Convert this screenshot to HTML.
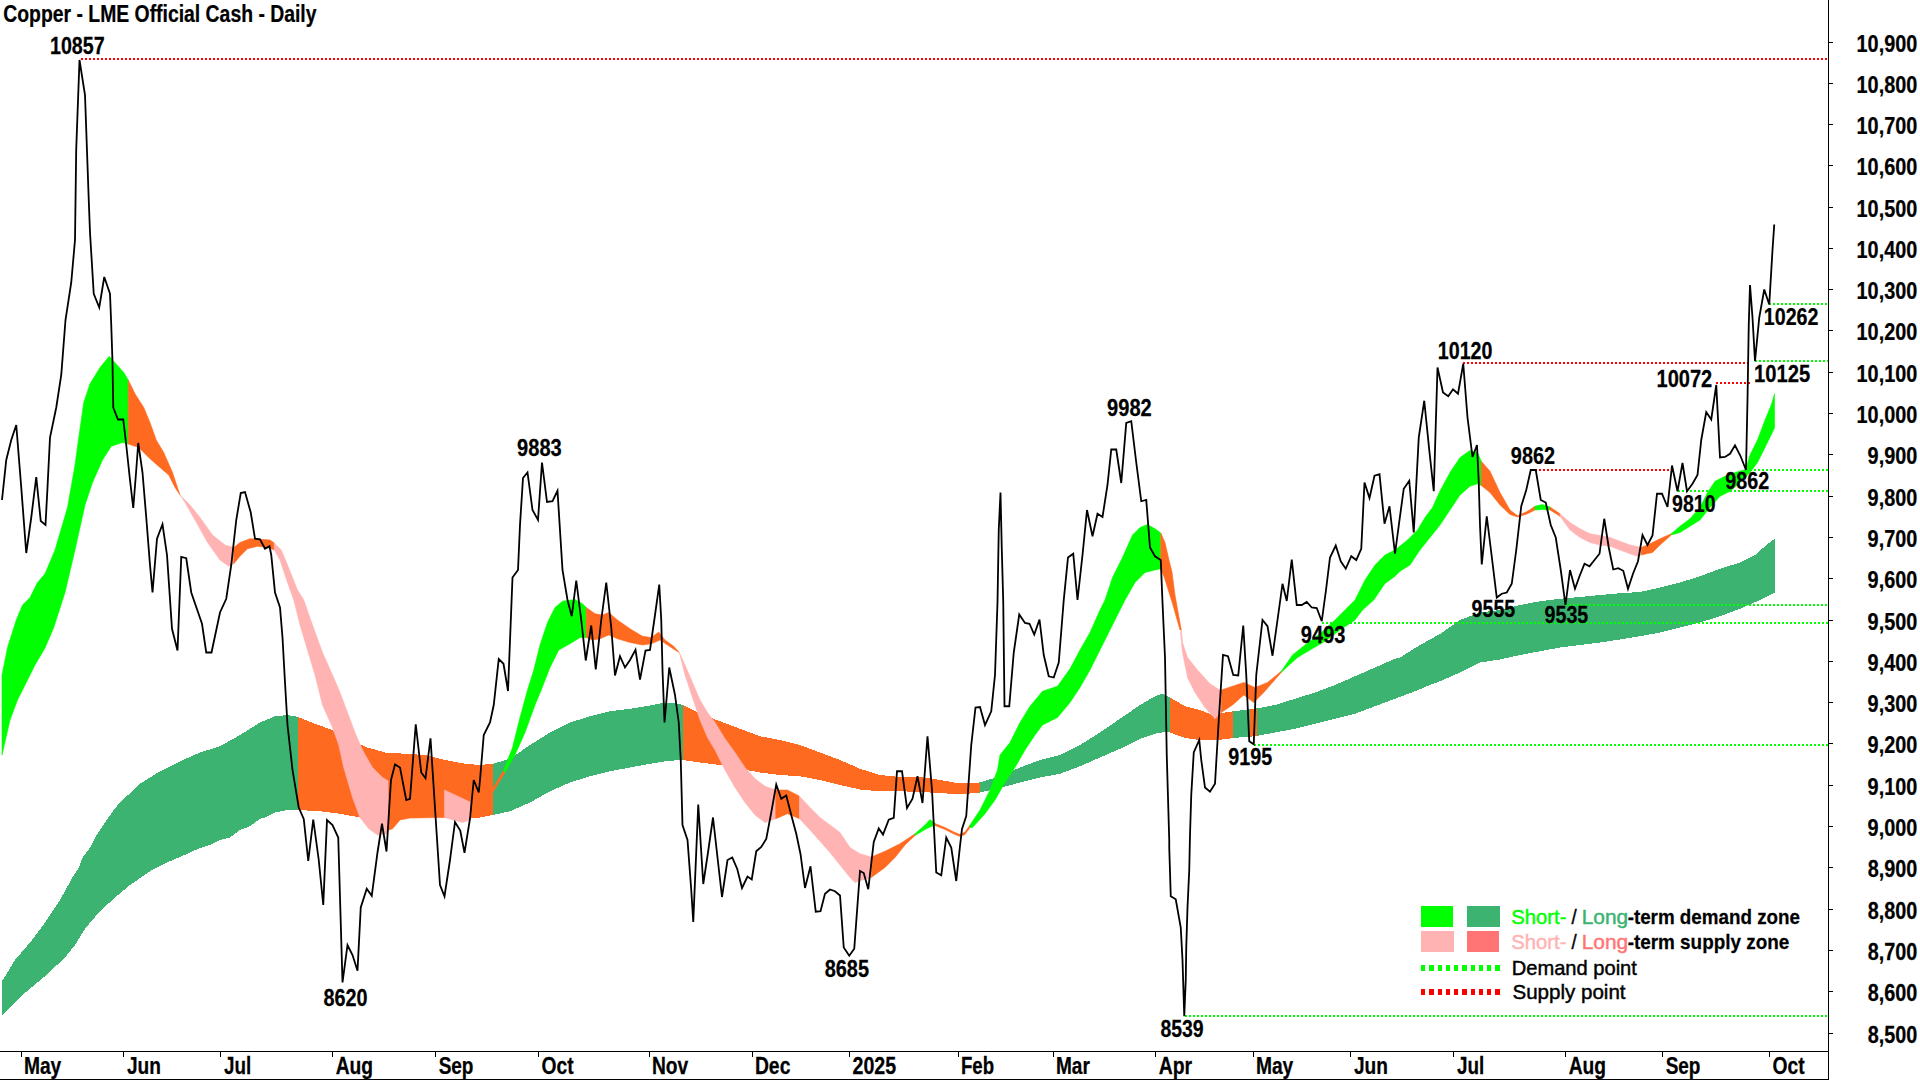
<!DOCTYPE html>
<html lang="en"><head><meta charset="utf-8"><title>Copper - LME Official Cash - Daily</title>
<style>
html,body{margin:0;padding:0;background:#fff;}
body{width:1920px;height:1080px;overflow:hidden;}
svg{display:block;}
text{font-family:"Liberation Sans",Arial,sans-serif;font-weight:bold;fill:#000;stroke:#000;stroke-width:0.25px;}
.r{font-weight:normal;stroke-width:0.45px;}
</style></head><body>
<svg width="1920" height="1080" viewBox="0 0 1920 1080">
<rect width="1920" height="1080" fill="#fff"/>
<g shape-rendering="crispEdges">
<path d="M2 981.25 L15 960 L30 942.5 L45 922.5 L60 900 L72.5 877.5 L78.75 868 L82.5 857.5 L90 847.5 L95 837.5 L105 822.5 L113.75 810 L120 802.5 L140 783.75 L160 771.25 L180 761.25 L200 752.5 L220 746.25 L240 735 L260 722.5 L275 716.25 L287.5 715 L298.25 717 L298.25 810 L285 810.5 L275 812.5 L265 817.5 L260 818.75 L250 826.25 L240 830 L230 837.5 L220 840 L210 845 L200 848 L190 852.5 L180 857 L170 861.25 L160 866 L150 871.25 L130 885 L115 897.5 L100 911.25 L85 928.75 L75 945 L65 957.5 L45 976.25 L22.5 995 L2 1015Z" fill="#3cb371" stroke="#3cb371" stroke-width="0"/>
<path d="M298.25 717 L315 723.75 L332.5 730 L350 740 L367.5 747.5 L385 752.5 L405 753.75 L425 755 L445 760 L465 763.75 L480 765 L493 763.75 L493 815 L480 817.5 L470 818 L445 817.5 L430 817 L410 818 L400 818 L360 817.5 L340 813.75 L320 811.25 L298.25 810Z" fill="#ff6a21" stroke="#ff6a21" stroke-width="0"/>
<path d="M493 763.75 L510 758.75 L530 745 L550 732.5 L570 722.5 L590 716.25 L610 711.25 L630 708.75 L650 705.5 L665 702.5 L675 703 L682.5 705 L682.5 760 L680 760 L665 761.25 L650 763.75 L630 767.5 L610 771.25 L590 776.25 L570 782.5 L550 791.25 L530 802.5 L510 811.25 L493 815Z" fill="#3cb371" stroke="#3cb371" stroke-width="0"/>
<path d="M682.5 705 L700 713.75 L720 721.25 L740 728.75 L760 736.25 L780 740 L800 745 L820 752.5 L840 760 L860 768.75 L880 775 L900 777 L920 777 L940 780 L960 783.5 L979.5 782.5 L979.5 792.5 L960 794.5 L940 793 L920 792 L900 791.25 L880 791.25 L860 789.5 L840 785 L820 780 L800 776.25 L780 775 L760 772.5 L740 768.75 L720 765 L700 762.5 L682.5 760Z" fill="#ff6a21" stroke="#ff6a21" stroke-width="0"/>
<path d="M979.5 782.5 L1000 776.25 L1020 767.5 L1040 760 L1060 755 L1080 745 L1100 732.5 L1120 718.75 L1140 705 L1155 696.25 L1162.5 693.75 L1170 697.5 L1170 732.5 L1165 732 L1155 733.75 L1140 738.75 L1120 748.75 L1100 757.5 L1080 766.25 L1060 773.75 L1040 777.5 L1020 782.5 L1000 788 L979.5 792.5Z" fill="#3cb371" stroke="#3cb371" stroke-width="0"/>
<path d="M1170 697.5 L1185 706.25 L1200 710 L1212.5 715 L1225 712.5 L1233.25 711.25 L1233.25 738 L1215 740.5 L1200 740 L1185 738 L1170 732.5Z" fill="#ff6a21" stroke="#ff6a21" stroke-width="0"/>
<path d="M1233.25 711.25 L1255 708.75 L1275 705 L1295 698.75 L1315 692.5 L1335 685 L1355 676.25 L1375 667.5 L1395 658.75 L1400 657.5 L1420 645 L1440 634 L1460 620 L1480 612.5 L1500 610 L1520 605 L1540 601.25 L1560 598.75 L1580 597 L1600 595 L1620 593.25 L1640 592 L1660 587.5 L1680 582.5 L1700 576.25 L1720 568.75 L1740 562.5 L1755 555 L1765 546.25 L1774.5 538.75 L1774.5 592.5 L1760 600 L1740 608.75 L1720 616.25 L1700 622.5 L1680 627.5 L1660 632.5 L1640 636.25 L1620 639.5 L1600 642.5 L1580 645 L1560 647.5 L1540 651.25 L1520 655 L1500 659.5 L1480 662.5 L1460 672.5 L1440 681.25 L1430 685 L1415 691.25 L1395 698.75 L1375 706.25 L1355 713.75 L1335 718.75 L1315 723.75 L1295 728.75 L1275 732.5 L1255 736.25 L1233.25 738Z" fill="#3cb371" stroke="#3cb371" stroke-width="0"/>
<path d="M1249.5 709.4 L1257 708.5 L1257 736 L1249.5 736.7Z" fill="#ff6a21" stroke="#ff6a21" stroke-width="0"/>
</g><g>
<path d="M2 675 L7.5 647.5 L16.25 620 L22.5 605 L30 597.5 L37.5 582.5 L45 573.75 L55 550 L67.5 507.5 L75 465 L78.75 437.5 L83.75 402.5 L90 383.75 L100 367.5 L109.25 356.25 L123.75 372.5 L128.25 380 L128.25 444 L122.5 442.5 L111.25 446.25 L102.5 460 L92.5 482.5 L85 505 L75 550 L65 592.5 L53.75 627.5 L45 648 L35 665 L25 685 L17.5 700 L10 720 L2 755Z" fill="#00ff00" stroke="#00ff00" stroke-width="0.6"/>
<path d="M128.25 380 L135 393.75 L143.75 407.5 L150 422.5 L156.25 440 L163.75 452.5 L172.5 472.5 L180 495 L180 495 L175 487.5 L168.75 475 L160 467.5 L150 458.75 L138.75 447.5 L128.25 444Z" fill="#ff6a21" stroke="#ff6a21" stroke-width="0.6"/>
<path d="M180 495 L190 505 L200 517.5 L212.5 535 L225 545 L233.75 547.5 L233.75 563.75 L228.75 566.25 L220 560 L207.5 542.5 L195 520 L185 502.5 L180 495Z" fill="#ffb3b3" stroke="#ffb3b3" stroke-width="0.6"/>
<path d="M233.75 547.5 L240 542.5 L250 538.75 L260 539.25 L270 540 L274.25 543 L274.25 550 L267.5 547.5 L257.5 546.25 L247.5 548.75 L240 556.25 L233.75 563.75Z" fill="#ff6a21" stroke="#ff6a21" stroke-width="0.6"/>
<path d="M274.25 543 L281.25 550 L287.5 565 L297.5 590 L303.75 600 L312.5 625 L322.5 652.5 L332.5 675 L340 692.5 L347.5 712.5 L355 732.5 L362.5 750 L372.5 767.5 L382.5 777.5 L388.75 781.25 L388.75 830 L386.25 833.75 L377.5 835 L368.75 828.75 L360 817.5 L352.5 797.5 L343.75 767.5 L338.75 745 L332.5 727.5 L322.5 705 L315 675 L307.5 650 L300 625 L293.75 600 L287.5 582.5 L280 560 L274.25 550Z" fill="#ffb3b3" stroke="#ffb3b3" stroke-width="0.6"/>
<path d="M388.75 781.25 L400 785 L444.5 790 L444.5 817.5 L410 818 L400 820 L392.5 828.75 L388.75 830Z" fill="#ff6a21" stroke="#ff6a21" stroke-width="0.6"/>
<path d="M444.5 790 L470 802 L470 820 L462.5 822.5 L444.5 817.5Z" fill="#ffb3b3" stroke="#ffb3b3" stroke-width="0.6"/>
<path d="M493 788 L503.75 770 L505 772.5 L493 792Z" fill="#ff6a21" stroke="#ff6a21" stroke-width="0.6"/>
<path d="M503.75 770 L512.5 747.5 L520 717.5 L527.5 690 L533.75 670 L540 645 L547.5 622.5 L555 607.5 L562.5 601.25 L575 599.5 L582.5 603.75 L586.25 607.5 L586.25 637.5 L580 637.5 L570 643.75 L558.75 650 L550 667.5 L541.25 690 L535 705 L525 732.5 L515 755 L504.5 773Z" fill="#00ff00" stroke="#00ff00" stroke-width="0.6"/>
<path d="M586.25 607.5 L595 613.75 L602.5 615 L608.75 612.5 L617.5 620 L630 628.75 L642.5 636.25 L651.25 637.5 L658.75 632 L665 640 L673.75 646.25 L679.25 652.5 L679.25 652.5 L675 650 L667.5 645 L660 640 L651.25 643.75 L642.5 645 L630 642.5 L617.5 638.75 L608.75 635 L600 638.75 L592.5 640 L586.25 637.5Z" fill="#ff6a21" stroke="#ff6a21" stroke-width="0.6"/>
<path d="M679.25 652.5 L685 665 L692.5 682.5 L700 700 L707.5 712.5 L715 722.5 L725 738.75 L735 752.5 L745 767.5 L755 778.75 L765 786.25 L775.75 790 L775.75 818.75 L765 822.5 L755 815 L745 802.5 L735 787.5 L725 770 L715 750 L707.5 737.5 L700 720 L692.5 697.5 L685 675 L680 655 L679.25 652.5Z" fill="#ffb3b3" stroke="#ffb3b3" stroke-width="0.6"/>
<path d="M775.75 790 L787.5 790 L799.5 796.25 L799.5 818.75 L787.5 813.75 L775.75 818.75Z" fill="#ff6a21" stroke="#ff6a21" stroke-width="0.6"/>
<path d="M799.5 796.25 L810 807.5 L820 817.5 L830 825 L840 832.5 L850 847.5 L860 853.75 L871.25 857 L871.25 877.5 L862.5 880 L855 882.5 L850 877.5 L840 865 L830 852.5 L820 841.25 L810 830 L799.5 818.75Z" fill="#ffb3b3" stroke="#ffb3b3" stroke-width="0.6"/>
<path d="M871.25 857 L885 851.25 L900 843.75 L915 833.75 L915 835.5 L905 845 L895 857.5 L885 867.5 L871.25 877.5Z" fill="#ff6a21" stroke="#ff6a21" stroke-width="0.6"/>
<path d="M915 833.75 L925 825 L930 819.5 L935 823.5 L935 825.5 L930 827 L925 829.5 L915 835.5Z" fill="#00ff00" stroke="#00ff00" stroke-width="0.6"/>
<path d="M935 823.5 L945 827.5 L955 832.5 L960 834.5 L965 832 L970 825 L970 827.5 L965 834.5 L960 836.5 L955 834.5 L945 829.5 L935 825.5Z" fill="#ff6a21" stroke="#ff6a21" stroke-width="0.6"/>
<path d="M970 825 L980 810 L990 790 L997.5 770 L1000 755 L1010 742.5 L1020 722.5 L1030 706.25 L1042.5 691.25 L1057.5 686.25 L1070 668.75 L1080 650 L1090 632.5 L1100 610 L1105 600 L1112.5 577.5 L1122.5 557.5 L1132.5 535 L1140 527.5 L1147.5 524.5 L1155 528.75 L1160.75 533 L1160.75 568.75 L1155 570 L1145 572.5 L1135 582.5 L1125 600 L1120 610 L1110 630 L1100 650 L1090 670 L1080 687.5 L1070 702.5 L1057.5 717.5 L1042.5 725 L1035 735 L1025 750 L1015 767.5 L1005 782.5 L995 800 L985 813.75 L972.5 827.5 L970 827.5Z" fill="#00ff00" stroke="#00ff00" stroke-width="0.6"/>
<path d="M1160.75 533 L1165 542.5 L1169 560 L1172 572 L1175 595 L1181.25 630 L1180 630 L1172 602 L1164.5 578 L1160.75 568.75Z" fill="#ff6a21" stroke="#ff6a21" stroke-width="0.6"/>
<path d="M1181.25 630 L1182.5 642.5 L1187.5 657.5 L1197.5 670 L1210 683.75 L1221.25 691 L1221.25 712.5 L1215 718.75 L1205 707.5 L1195 692.5 L1187.5 677.5 L1182.5 652.5 L1180.5 632.5Z" fill="#ffb3b3" stroke="#ffb3b3" stroke-width="0.6"/>
<path d="M1221.25 690 L1232.5 686.25 L1243.75 682.5 L1255 687.5 L1267.5 682.5 L1281.25 671.25 L1281.25 672.5 L1272.5 682.5 L1263.75 692.5 L1253.75 702.5 L1243.75 695 L1232.5 705 L1221.25 712.5Z" fill="#ff6a21" stroke="#ff6a21" stroke-width="0.6"/>
<path d="M1281.25 671.25 L1292.5 655 L1305 645 L1320 633.75 L1335 620 L1350 605 L1355 600 L1365 580 L1375 565 L1385 555 L1395 550 L1407.5 540 L1417.5 530 L1425 517.5 L1432.5 507.5 L1440 491 L1450 472.5 L1460 457.5 L1470 450.5 L1477.5 452.5 L1481.25 461.25 L1481.25 485.5 L1477.5 483.75 L1470 486.25 L1460 495 L1450 510 L1440 525 L1430 537.5 L1420 550 L1410 565 L1400 571.25 L1395 576.25 L1385 583.5 L1373.75 600 L1362.5 610 L1355 620 L1340 630 L1325 641.25 L1310 650 L1297.5 657.5 L1285 668.75 L1281.25 672.5Z" fill="#00ff00" stroke="#00ff00" stroke-width="0.6"/>
<path d="M1481.25 461.25 L1490 471.25 L1500 492.5 L1510 510 L1517.5 515.75 L1527.5 511.25 L1535 506.25 L1535 510 L1527.5 513.75 L1517.5 517 L1510 514.5 L1500 505 L1490 492.5 L1481.25 485.5Z" fill="#ff6a21" stroke="#ff6a21" stroke-width="0.6"/>
<path d="M1535 506.25 L1542.5 504.5 L1550 507 L1550 510 L1542.5 509.5 L1535 510Z" fill="#00ff00" stroke="#00ff00" stroke-width="0.6"/>
<path d="M1550 507 L1560 513.75 L1560 516.25 L1550 510Z" fill="#ff6a21" stroke="#ff6a21" stroke-width="0.6"/>
<path d="M1560 513.75 L1570 522.5 L1580 528.75 L1590 533.75 L1600 535.5 L1610 537.5 L1620 541.25 L1630 545 L1641.25 547.5 L1641.25 555 L1637.5 556.25 L1630 553.75 L1620 550 L1610 546.25 L1600 545 L1590 542.5 L1580 537.5 L1570 530 L1560 516.25Z" fill="#ffb3b3" stroke="#ffb3b3" stroke-width="0.6"/>
<path d="M1641.25 547.5 L1650 543.75 L1660 538.75 L1671.25 533.75 L1671.25 535 L1660 545 L1652.5 552.5 L1641.25 555Z" fill="#ff6a21" stroke="#ff6a21" stroke-width="0.6"/>
<path d="M1671.25 533.75 L1680 526.25 L1690 518.75 L1700 507.5 L1707.5 492.5 L1715 481.25 L1725 476.25 L1735 472.5 L1745.75 469.5 L1750 455 L1757.5 440 L1765 420 L1771.25 405 L1774.5 393.75 L1774.5 428 L1765 447.5 L1757.5 462.5 L1750 472.5 L1740 482.5 L1730 491.25 L1720 496.25 L1710 507.5 L1700 520 L1690 526.25 L1680 532.5 L1671.25 535Z" fill="#00ff00" stroke="#00ff00" stroke-width="0.6"/>
</g>
<line x1="81" y1="59" x2="1828" y2="59" stroke="#ff0000" stroke-width="2" stroke-dasharray="2 2" shape-rendering="crispEdges"/>
<line x1="1463" y1="363" x2="1749" y2="363" stroke="#ff0000" stroke-width="2" stroke-dasharray="2 2" shape-rendering="crispEdges"/>
<line x1="1716" y1="383" x2="1750" y2="383" stroke="#ff0000" stroke-width="2" stroke-dasharray="2 2" shape-rendering="crispEdges"/>
<line x1="1531" y1="469.5" x2="1671" y2="469.5" stroke="#ff0000" stroke-width="2" stroke-dasharray="2 2" shape-rendering="crispEdges"/>
<line x1="1769" y1="304" x2="1828" y2="304" stroke="#00ff00" stroke-width="2" stroke-dasharray="2 2" shape-rendering="crispEdges"/>
<line x1="1755" y1="361" x2="1828" y2="361" stroke="#00ff00" stroke-width="2" stroke-dasharray="2 2" shape-rendering="crispEdges"/>
<line x1="1746" y1="469.5" x2="1828" y2="469.5" stroke="#00ff00" stroke-width="2" stroke-dasharray="2 2" shape-rendering="crispEdges"/>
<line x1="1678" y1="491" x2="1828" y2="491" stroke="#00ff00" stroke-width="2" stroke-dasharray="2 2" shape-rendering="crispEdges"/>
<line x1="1565" y1="605" x2="1828" y2="605" stroke="#00ff00" stroke-width="2" stroke-dasharray="2 2" shape-rendering="crispEdges"/>
<line x1="1322" y1="623" x2="1828" y2="623" stroke="#00ff00" stroke-width="2" stroke-dasharray="2 2" shape-rendering="crispEdges"/>
<line x1="1254" y1="745" x2="1828" y2="745" stroke="#00ff00" stroke-width="2" stroke-dasharray="2 2" shape-rendering="crispEdges"/>
<line x1="1185" y1="1016" x2="1828" y2="1016" stroke="#00ff00" stroke-width="2" stroke-dasharray="2 2" shape-rendering="crispEdges"/>
<path d="M2 500 L6.25 460 L11.25 440 L16.25 425 L21.25 487.5 L26.25 553 L31.25 517.5 L36.25 477 L40.75 521 L45.5 525 L47.5 487.5 L50 437.5 L56.25 407.5 L61.25 375 L65.5 320 L71.25 282.5 L75 240 L76.2 150 L79.5 60 L85 95 L88.75 200 L90 232.5 L93.75 293.75 L99.25 307.5 L104.25 277 L110 293.75 L111.25 325 L112.5 362.5 L113.25 407.5 L118 419.5 L123.25 419.5 L126.25 445 L130 480 L133.25 508 L136.25 470 L138.25 443 L142.5 472.5 L146.25 517.5 L150 565 L152.5 592.5 L157 538.75 L162.5 524.25 L167 555 L172 628.75 L177.5 650.5 L181.25 557 L186.25 558.25 L191.25 592.5 L202 623.75 L206.25 652.5 L211.5 652.5 L220 612.5 L226.25 598.75 L231.25 565 L236.25 520 L240.75 493 L245 492 L250.75 512.5 L255 538.75 L260 539.25 L265 548.75 L269.5 546.25 L271.25 555 L275 592.5 L280 607.5 L282.5 637.5 L285 682.5 L287.5 725 L292.5 770 L298.75 807.5 L303.75 819 L308.25 861 L313.25 819.5 L318.75 860 L323.25 905 L327 820 L332.5 825 L338.25 837.5 L340 897.5 L342.5 982.5 L347.5 945 L352.5 955 L357.5 970.75 L360.75 907.5 L366.75 888.75 L371.75 895.75 L377.5 852.5 L382 823.75 L386.5 851.5 L391 780 L395 764.5 L400 767.5 L406.25 800 L410 798.75 L415.75 724.25 L421.25 772.5 L425.5 778.25 L430.5 738.25 L435 808 L440 885 L444.5 896.25 L450 860 L455 822 L460.25 830.5 L464.5 852.75 L470 818.75 L473.75 780 L478.75 792.5 L480 780 L483.75 735 L490 722.5 L493.75 705 L498.75 659 L503.5 663.75 L508 691 L512.5 577.5 L518 570 L520 525 L523 478 L527.5 472.5 L532.5 510 L538 520 L542 462.5 L547 502 L552.5 501.25 L557.5 490.75 L562.5 570 L567.5 600 L571.75 616.25 L576.25 580.5 L581.25 620 L585.75 660.5 L591.25 625.5 L595.75 669.5 L601.25 620 L606.25 582.5 L611.25 627.5 L615 675.5 L620 656.25 L625 667.5 L630 660 L635.5 649.75 L640 679.5 L645.5 650.5 L650 650 L655 615 L659.25 584.5 L661.25 620 L662.5 670 L664.5 722.5 L666.25 702.5 L669.25 667.5 L675 695 L678.75 722.5 L680.75 760 L682.5 825 L687.5 840 L691.25 890 L693.25 922 L698.25 804.5 L703.25 884 L708 852.5 L713 817.5 L717.5 857.5 L722 897 L727.5 860 L732.25 857.5 L737.25 869 L742 888 L747.5 876.5 L751.75 879.5 L756.25 851.25 L761.25 847 L766.25 839 L771.25 812.5 L776.25 784.5 L781.25 798.75 L786.25 795.5 L791.25 815 L796.25 833.75 L800.5 854 L805 888 L810.5 866.25 L815.75 911.75 L820.5 911.25 L825 893.75 L830 889.5 L835 891.25 L840 895.5 L843.75 947.5 L849.25 955.75 L854.25 948.75 L860 871 L863.75 873 L868.25 889.25 L873.75 842 L878.75 828.5 L883 834.5 L888.75 819.75 L893.75 817.75 L897 771.25 L902 771.25 L907 808 L912.5 798.75 L917.5 776.25 L922.5 803 L927.5 736.25 L932 790 L936.25 872.5 L941.25 875.25 L946.25 837.5 L951.25 847.5 L956.25 881 L960 846 L962 829 L966.25 816 L971.25 745 L975.5 707.5 L980 707 L985 725 L991.25 711.25 L995 675 L997.5 602.5 L998.75 530 L1000.5 492.5 L1001.75 547.5 L1003.25 602.5 L1004.5 706.25 L1009.25 706.25 L1013.75 652.5 L1019.25 614.5 L1025 623 L1029.5 623.75 L1034.25 634.5 L1039.5 619.5 L1043.75 655 L1048.75 676.25 L1053.75 677.5 L1058.75 662.5 L1063.75 600 L1068 557.5 L1073.25 553.75 L1077.5 600 L1082.5 555 L1087 510 L1092.5 536.25 L1097.5 513.75 L1102.5 517 L1107.5 485 L1111.25 449.5 L1116.25 449.5 L1121.25 483 L1126.25 423 L1131.25 421.25 L1136.25 462.5 L1141.25 501.25 L1146.25 500 L1150 547.5 L1155 556.25 L1160.75 560 L1162.5 602.5 L1165 657.5 L1166.75 755 L1169.25 840 L1169.25 847.5 L1170.75 896.25 L1175.75 899.25 L1180.75 927.5 L1182.5 960 L1184.25 1016.25 L1185.75 980 L1186.25 947.5 L1187.5 907.5 L1189.25 870 L1190 835 L1191.25 795 L1193.75 752.5 L1199.25 740 L1201.25 760 L1205 787.5 L1210 791.75 L1215 783.75 L1218.75 720 L1223 655 L1228 656.25 L1233.25 675 L1238.25 675.5 L1243.25 625.5 L1246.25 675 L1249.25 741.25 L1253.75 744.25 L1256.25 675 L1262.5 620 L1267.5 626.25 L1272.5 655.75 L1277.5 620 L1282.5 583.75 L1286.75 601 L1291.75 559.5 L1296.75 605 L1301.75 605 L1306.75 602 L1311.75 607.5 L1316.75 608 L1321.75 621.25 L1326 590 L1330 557.5 L1335.75 545.5 L1340.75 561.25 L1345.75 568.75 L1351.25 556.25 L1356.25 560 L1361.25 548.75 L1364.5 482.5 L1369.5 498 L1374.5 475.75 L1379.5 474.25 L1384.5 523.75 L1389.5 506.25 L1395 553.75 L1399.5 520 L1403.75 488.75 L1409.25 480.75 L1413.75 532.5 L1418.75 437.5 L1424.25 400.75 L1429.25 450 L1433.75 491.25 L1437.5 367.5 L1443 392.5 L1448.25 396.25 L1453 389.25 L1458 393.75 L1463.25 363.75 L1467.5 417.5 L1472.5 457 L1477 445 L1478.75 482.5 L1480 525 L1481.75 564.5 L1486.75 516.25 L1491.25 552.5 L1496.75 597.5 L1501.75 593.75 L1506.75 592.5 L1511.75 583.75 L1516.25 550 L1521.25 506.25 L1526.25 490 L1530.75 470 L1535.75 470 L1540.75 500 L1545.75 502.5 L1550.75 525 L1555.75 537.5 L1560.75 570 L1565.5 605 L1570 570 L1575 588.75 L1579.5 576.25 L1584.5 563.75 L1589.5 566.25 L1594.5 560 L1599.5 553.75 L1604.25 518.75 L1608.75 547.5 L1613.25 569.5 L1618.25 568.25 L1623.25 570.75 L1628 588.75 L1633 573.75 L1638 561.25 L1642.5 535 L1647.5 545 L1652.5 535.5 L1657 493.75 L1662 493.75 L1667.5 507 L1672 465.5 L1677.5 491.25 L1682.5 463 L1687 491.25 L1692.5 483.75 L1697.5 475 L1701.25 440 L1706.25 412 L1711.25 419.5 L1716.25 385 L1720 457.5 L1725 457 L1730 453.75 L1735 445.25 L1740.5 456 L1746 470 L1747.5 400 L1748.75 325 L1750 285 L1752.5 317.5 L1755 361.25 L1759.25 317.5 L1764.25 289.5 L1769.25 304.5 L1772.5 250 L1774.25 224.5" fill="none" stroke="#000" stroke-width="1.8" stroke-linejoin="miter"/>
<g stroke="#000" stroke-width="1" shape-rendering="crispEdges">
<line x1="1828.5" y1="0" x2="1828.5" y2="1080"/>
<line x1="0" y1="1051.5" x2="1829" y2="1051.5"/>
<line x1="0" y1="1079.5" x2="1829" y2="1079.5"/>
<line x1="1829" y1="1033.5" x2="1833" y2="1033.5"/>
<line x1="1829" y1="991.5" x2="1833" y2="991.5"/>
<line x1="1829" y1="950.5" x2="1833" y2="950.5"/>
<line x1="1829" y1="909.5" x2="1833" y2="909.5"/>
<line x1="1829" y1="867.5" x2="1833" y2="867.5"/>
<line x1="1829" y1="826.5" x2="1833" y2="826.5"/>
<line x1="1829" y1="785.5" x2="1833" y2="785.5"/>
<line x1="1829" y1="743.5" x2="1833" y2="743.5"/>
<line x1="1829" y1="702.5" x2="1833" y2="702.5"/>
<line x1="1829" y1="661.5" x2="1833" y2="661.5"/>
<line x1="1829" y1="620.5" x2="1833" y2="620.5"/>
<line x1="1829" y1="578.5" x2="1833" y2="578.5"/>
<line x1="1829" y1="537.5" x2="1833" y2="537.5"/>
<line x1="1829" y1="496.5" x2="1833" y2="496.5"/>
<line x1="1829" y1="454.5" x2="1833" y2="454.5"/>
<line x1="1829" y1="413.5" x2="1833" y2="413.5"/>
<line x1="1829" y1="372.5" x2="1833" y2="372.5"/>
<line x1="1829" y1="330.5" x2="1833" y2="330.5"/>
<line x1="1829" y1="289.5" x2="1833" y2="289.5"/>
<line x1="1829" y1="248.5" x2="1833" y2="248.5"/>
<line x1="1829" y1="207.5" x2="1833" y2="207.5"/>
<line x1="1829" y1="165.5" x2="1833" y2="165.5"/>
<line x1="1829" y1="124.5" x2="1833" y2="124.5"/>
<line x1="1829" y1="83.5" x2="1833" y2="83.5"/>
<line x1="1829" y1="42.5" x2="1833" y2="42.5"/>
<line x1="21.5" y1="1052" x2="21.5" y2="1057"/>
<line x1="123.5" y1="1052" x2="123.5" y2="1057"/>
<line x1="220.5" y1="1052" x2="220.5" y2="1057"/>
<line x1="332.5" y1="1052" x2="332.5" y2="1057"/>
<line x1="435.5" y1="1052" x2="435.5" y2="1057"/>
<line x1="538.5" y1="1052" x2="538.5" y2="1057"/>
<line x1="649.5" y1="1052" x2="649.5" y2="1057"/>
<line x1="752.5" y1="1052" x2="752.5" y2="1057"/>
<line x1="849.5" y1="1052" x2="849.5" y2="1057"/>
<line x1="958.5" y1="1052" x2="958.5" y2="1057"/>
<line x1="1053.5" y1="1052" x2="1053.5" y2="1057"/>
<line x1="1155.5" y1="1052" x2="1155.5" y2="1057"/>
<line x1="1253.5" y1="1052" x2="1253.5" y2="1057"/>
<line x1="1350.5" y1="1052" x2="1350.5" y2="1057"/>
<line x1="1453.5" y1="1052" x2="1453.5" y2="1057"/>
<line x1="1565.5" y1="1052" x2="1565.5" y2="1057"/>
<line x1="1662.5" y1="1052" x2="1662.5" y2="1057"/>
<line x1="1769.5" y1="1052" x2="1769.5" y2="1057"/>
</g>
<text transform="translate(23.90 1073.5) scale(0.8323 1)" font-size="23.1">May</text>
<text transform="translate(126.91 1073.5) scale(0.8264 1)" font-size="23.1">Jun</text>
<text transform="translate(223.92 1073.5) scale(0.8165 1)" font-size="23.1">Jul</text>
<text transform="translate(335.72 1073.5) scale(0.8331 1)" font-size="23.1">Aug</text>
<text transform="translate(438.63 1073.5) scale(0.8228 1)" font-size="23.1">Sep</text>
<text transform="translate(541.43 1073.5) scale(0.8350 1)" font-size="23.1">Oct</text>
<text transform="translate(651.90 1073.5) scale(0.8313 1)" font-size="23.1">Nov</text>
<text transform="translate(754.89 1073.5) scale(0.8384 1)" font-size="23.1">Dec</text>
<text transform="translate(852.51 1073.5) scale(0.8498 1)" font-size="23.1">2025</text>
<text transform="translate(960.94 1073.5) scale(0.8075 1)" font-size="23.1">Feb</text>
<text transform="translate(1055.91 1073.5) scale(0.8263 1)" font-size="23.1">Mar</text>
<text transform="translate(1158.71 1073.5) scale(0.8401 1)" font-size="23.1">Apr</text>
<text transform="translate(1255.90 1073.5) scale(0.8323 1)" font-size="23.1">May</text>
<text transform="translate(1353.91 1073.5) scale(0.8264 1)" font-size="23.1">Jun</text>
<text transform="translate(1456.92 1073.5) scale(0.8165 1)" font-size="23.1">Jul</text>
<text transform="translate(1568.72 1073.5) scale(0.8331 1)" font-size="23.1">Aug</text>
<text transform="translate(1665.63 1073.5) scale(0.8228 1)" font-size="23.1">Sep</text>
<text transform="translate(1772.43 1073.5) scale(0.8350 1)" font-size="23.1">Oct</text>
<text transform="translate(1867.66 1043.3) scale(0.8587 1)" font-size="23.1">8,500</text>
<text transform="translate(1867.66 1001.3) scale(0.8587 1)" font-size="23.1">8,600</text>
<text transform="translate(1867.66 960.3) scale(0.8587 1)" font-size="23.1">8,700</text>
<text transform="translate(1867.66 919.3) scale(0.8587 1)" font-size="23.1">8,800</text>
<text transform="translate(1867.66 877.3) scale(0.8587 1)" font-size="23.1">8,900</text>
<text transform="translate(1867.61 836.3) scale(0.8596 1)" font-size="23.1">9,000</text>
<text transform="translate(1867.61 795.3) scale(0.8596 1)" font-size="23.1">9,100</text>
<text transform="translate(1867.61 753.3) scale(0.8596 1)" font-size="23.1">9,200</text>
<text transform="translate(1867.61 712.3) scale(0.8596 1)" font-size="23.1">9,300</text>
<text transform="translate(1867.61 671.3) scale(0.8596 1)" font-size="23.1">9,400</text>
<text transform="translate(1867.61 630.3) scale(0.8596 1)" font-size="23.1">9,500</text>
<text transform="translate(1867.61 588.3) scale(0.8596 1)" font-size="23.1">9,600</text>
<text transform="translate(1867.61 547.3) scale(0.8596 1)" font-size="23.1">9,700</text>
<text transform="translate(1867.61 506.3) scale(0.8596 1)" font-size="23.1">9,800</text>
<text transform="translate(1867.61 464.3) scale(0.8596 1)" font-size="23.1">9,900</text>
<text transform="translate(1856.56 423.3) scale(0.8599 1)" font-size="23.1">10,000</text>
<text transform="translate(1856.56 382.3) scale(0.8599 1)" font-size="23.1">10,100</text>
<text transform="translate(1856.56 340.3) scale(0.8599 1)" font-size="23.1">10,200</text>
<text transform="translate(1856.56 299.3) scale(0.8599 1)" font-size="23.1">10,300</text>
<text transform="translate(1856.56 258.3) scale(0.8599 1)" font-size="23.1">10,400</text>
<text transform="translate(1856.56 217.3) scale(0.8599 1)" font-size="23.1">10,500</text>
<text transform="translate(1856.56 175.3) scale(0.8599 1)" font-size="23.1">10,600</text>
<text transform="translate(1856.56 134.3) scale(0.8599 1)" font-size="23.1">10,700</text>
<text transform="translate(1856.56 93.3) scale(0.8599 1)" font-size="23.1">10,800</text>
<text transform="translate(1856.56 52.3) scale(0.8599 1)" font-size="23.1">10,900</text>
<text transform="translate(3.27 21.6) scale(0.8080 1)" font-size="24">Copper - LME Official Cash - Daily</text>
<text transform="translate(49.97 53.7) scale(0.8512 1)" font-size="23.1">10857</text>
<text transform="translate(323.41 1006) scale(0.8588 1)" font-size="23.1">8620</text>
<text transform="translate(517.10 456.25) scale(0.8678 1)" font-size="23.1">9883</text>
<text transform="translate(824.65 976.75) scale(0.8638 1)" font-size="23.1">8685</text>
<text transform="translate(1107.10 415.5) scale(0.8698 1)" font-size="23.1">9982</text>
<text transform="translate(1228.36 765) scale(0.8548 1)" font-size="23.1">9195</text>
<text transform="translate(1300.85 642.5) scale(0.8678 1)" font-size="23.1">9493</text>
<text transform="translate(1160.42 1036.75) scale(0.8417 1)" font-size="23.1">8539</text>
<text transform="translate(1437.82 359.25) scale(0.8512 1)" font-size="23.1">10120</text>
<text transform="translate(1656.55 386.75) scale(0.8674 1)" font-size="23.1">10072</text>
<text transform="translate(1763.77 325) scale(0.8521 1)" font-size="23.1">10262</text>
<text transform="translate(1754.04 382.25) scale(0.8755 1)" font-size="23.1">10125</text>
<text transform="translate(1510.85 464.25) scale(0.8598 1)" font-size="23.1">9862</text>
<text transform="translate(1725.36 488.5) scale(0.8547 1)" font-size="23.1">9862</text>
<text transform="translate(1672.12 511.75) scale(0.8446 1)" font-size="23.1">9810</text>
<text transform="translate(1471.61 616.75) scale(0.8498 1)" font-size="23.1">9555</text>
<text transform="translate(1544.61 623) scale(0.8498 1)" font-size="23.1">9535</text>
<g shape-rendering="crispEdges">
<rect x="1421" y="906" width="32" height="20.5" fill="#00ff00"/>
<rect x="1467" y="906" width="33" height="20.5" fill="#3cb371"/>
<rect x="1421" y="931" width="33" height="21" fill="#ffb3b3"/>
<rect x="1467" y="931" width="32" height="21" fill="#ff7575"/>
<line x1="1421.25" y1="968" x2="1500" y2="968" stroke="#00ff00" stroke-width="6" stroke-dasharray="4.1 4.14"/>
<line x1="1421.25" y1="992" x2="1500" y2="992" stroke="#ff0000" stroke-width="6" stroke-dasharray="4.1 4.14"/>
</g>
<text transform="translate(1511.29 923.7) scale(0.9641 1)" font-size="21" class="r" style="fill:#00ff00;stroke:#00ff00">Short-</text>
<text transform="translate(1571.55 923.7) scale(0.8837 1)" font-size="21" class="r" style="fill:#000;stroke:#000">/</text>
<text transform="translate(1581.68 923.7) scale(0.9948 1)" font-size="21" class="r" style="fill:#3cb371;stroke:#3cb371">Long</text>
<text transform="translate(1627.65 923.7) scale(0.8953 1)" font-size="21">-term demand zone</text>
<text transform="translate(1511.29 948.7) scale(0.9641 1)" font-size="21" class="r" style="fill:#ffb3b3;stroke:#ffb3b3">Short-</text>
<text transform="translate(1571.55 948.7) scale(0.8837 1)" font-size="21" class="r" style="fill:#000;stroke:#000">/</text>
<text transform="translate(1581.68 948.7) scale(0.9948 1)" font-size="21" class="r" style="fill:#ff7575;stroke:#ff7575">Long</text>
<text transform="translate(1627.64 948.7) scale(0.8996 1)" font-size="21">-term supply zone</text>
<text transform="translate(1511.74 975.2) scale(0.9578 1)" font-size="21" class="r" style="fill:#000;stroke:#000">Demand point</text>
<text transform="translate(1512.47 999.1) scale(0.9790 1)" font-size="21" class="r" style="fill:#000;stroke:#000">Supply point</text>
</svg></body></html>
